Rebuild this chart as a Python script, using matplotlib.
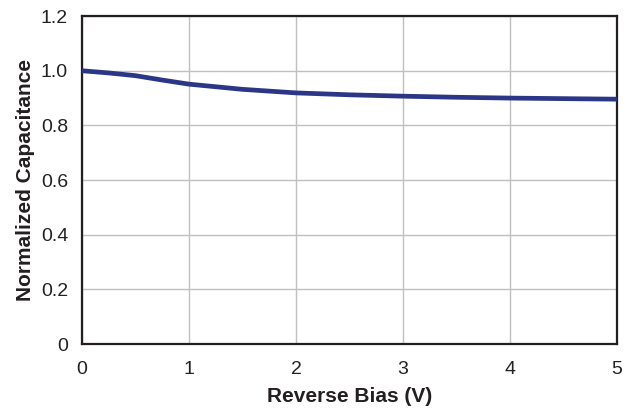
import numpy as np
from matplotlib import pyplot as plt

plt.rcParams['font.family'] = ['Liberation Sans', 'DejaVu Sans']

# values
bias = [0, 0.25, 0.5, 0.75, 1.0, 1.5, 2.0, 2.5, 3.0, 3.5, 4.0, 4.5, 5.0]
cap = [1.0, 0.992, 0.982, 0.966, 0.951, 0.932, 0.919, 0.912, 0.907, 0.903, 0.900, 0.898, 0.896]

xticks = [0, 1, 2, 3, 4, 5]
yticks = [0, 0.2, 0.4, 0.6, 0.8, 1.0, 1.2]
ylabels = ['0', '0.2', '0.4', '0.6', '0.8', '1.0', '1.2']

fig = plt.figure(figsize=(6.38, 4.13), dpi=100)
ax = fig.add_axes([0.1285, 0.167, 0.8385, 0.794])

ax.plot(bias, cap, color='#2b3686', lw=3.4, solid_capstyle='butt', zorder=3)

ax.set_xlim(0, 5)
ax.set_ylim(0, 1.2)
ax.set_xticks(xticks)
ax.set_yticks(yticks)
ax.set_yticklabels(ylabels)
ax.grid(True, color='#c0c0c0', lw=1.0)
ax.tick_params(length=0, labelsize=14, colors='#222222')
ax.tick_params(axis='x', pad=12)
ax.tick_params(axis='y', pad=10)
for s in ax.spines.values():
    s.set_color('#231f20')
    s.set_linewidth(1.6)

ax.set_xlabel('Reverse Bias (V)', fontsize=15, fontweight='bold', color='#231f20', labelpad=7)
ax.set_ylabel('Normalized Capacitance', fontsize=15, fontweight='bold', color='#231f20', labelpad=4)

fig.savefig('out.png', dpi=100)
